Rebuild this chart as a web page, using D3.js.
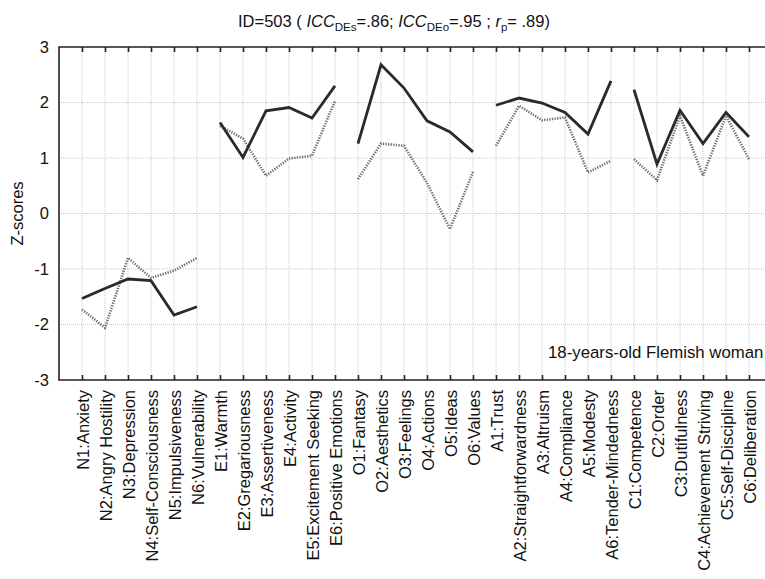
<!DOCTYPE html>
<html>
<head>
<meta charset="utf-8">
<script src="https://cdn.jsdelivr.net/npm/d3@7"></script>
<style>
  body { margin: 0; background: #fff; }
  svg { font-family: "Liberation Sans", Arial, sans-serif; display: block; }
</style>
</head>
<body>
<div id="chart"></div>
<script>
// facet categories (NEO-PI-R)
const domains = ["N", "E", "O", "A", "C"];
const facets = [
  "N1:Anxiety", "N2:Angry Hostility", "N3:Depression", "N4:Self-Consciousness", "N5:Impulsiveness", "N6:Vulnerability",
  "E1:Warmth", "E2:Gregariousness", "E3:Assertiveness", "E4:Activity", "E5:Excitement Seeking", "E6:Positive Emotions",
  "O1:Fantasy", "O2:Aesthetics", "O3:Feelings", "O4:Actions", "O5:Ideas", "O6:Values",
  "A1:Trust", "A2:Straightforwardness", "A3:Altruism", "A4:Compliance", "A5:Modesty", "A6:Tender-Mindedness",
  "C1:Competence", "C2:Order", "C3:Dutifulness", "C4:Achievement Striving", "C5:Self-Discipline", "C6:Deliberation"
];
// solid line (self)
const selfScores = [
  -1.53, -1.35, -1.18, -1.21, -1.83, -1.68,
  1.64, 1.01, 1.85, 1.91, 1.72, 2.30,
  1.26, 2.68, 2.26, 1.67, 1.47, 1.11,
  1.95, 2.08, 1.99, 1.82, 1.43, 2.39,
  2.23, 0.89, 1.86, 1.26, 1.82, 1.38
];
// dotted line (other)
const otherScores = [
  -1.73, -2.06, -0.80, -1.16, -1.03, -0.80,
  1.58, 1.35, 0.68, 0.99, 1.04, 2.03,
  0.62, 1.26, 1.22, 0.55, -0.28, 0.75,
  1.22, 1.94, 1.68, 1.73, 0.74, 0.95,
  0.98, 0.60, 1.76, 0.68, 1.76, 0.98
];
const yTicks = [-3, -2, -1, 0, 1, 2, 3];
const note = "18-years-old Flemish woman";

const width = 765, height = 579;
const plotLeft = 59, plotTop = 47, plotBottom = 380;

const svg = d3.select("#chart").append("svg")
  .attr("width", width)
  .attr("height", height);

const x = d3.scalePoint()
  .domain(facets)
  .range([plotLeft, plotLeft + 31 * 23])
  .padding(1);

const y = d3.scaleLinear()
  .domain([-3, 3])
  .range([plotBottom, plotTop]);

// grid
svg.append("g").selectAll("line")
  .data(facets)
  .enter().append("line")
  .attr("x1", d => x(d)).attr("x2", d => x(d))
  .attr("y1", plotTop).attr("y2", plotBottom)
  .attr("stroke", "#c8c8c8")
  .attr("stroke-width", 1)
  .attr("stroke-dasharray", "1,1");

svg.append("g").selectAll("line")
  .data(yTicks.slice(1, -1))
  .enter().append("line")
  .attr("x1", plotLeft).attr("x2", width)
  .attr("y1", d => y(d)).attr("y2", d => y(d))
  .attr("stroke", "#c8c8c8")
  .attr("stroke-width", 1)
  .attr("stroke-dasharray", "1,1");

// frame
svg.append("path")
  .attr("d", `M${width + 5},${plotTop}H${plotLeft}V${plotBottom}H${width + 5}`)
  .attr("fill", "none")
  .attr("stroke", "#222")
  .attr("stroke-width", 1.6);

// inward ticks on bottom and top
const bottomAxis = d3.axisBottom(x).tickSize(-5).tickFormat("");
svg.append("g")
  .attr("transform", `translate(0,${plotBottom})`)
  .call(bottomAxis)
  .call(g => g.select(".domain").remove())
  .call(g => g.selectAll(".tick line").attr("stroke", "#222").attr("stroke-width", 1.6));

const topAxis = d3.axisTop(x).tickSize(-5).tickFormat("");
svg.append("g")
  .attr("transform", `translate(0,${plotTop})`)
  .call(topAxis)
  .call(g => g.select(".domain").remove())
  .call(g => g.selectAll(".tick line").attr("stroke", "#222").attr("stroke-width", 1.6));

// y axis labels (plain hyphen for negatives)
const yAxis = d3.axisLeft(y).tickValues(yTicks).tickSize(0).tickPadding(10).tickFormat(d => String(d));
svg.append("g")
  .attr("transform", `translate(${plotLeft},0)`)
  .call(yAxis)
  .call(g => g.select(".domain").remove())
  .call(g => g.selectAll("text")
    .attr("font-size", "16.5px")
    .attr("fill", "#111")
    .attr("font-family", "Liberation Sans, Arial, sans-serif"));

// x labels, rotated
svg.append("g").selectAll("text")
  .data(facets)
  .enter().append("text")
  .attr("transform", d => `translate(${x(d) + 7},390) rotate(-90)`)
  .attr("text-anchor", "end")
  .attr("font-size", "16.5px")
  .attr("fill", "#111")
  .text(d => d);

// y title
svg.append("text")
  .attr("transform", `translate(23,${y(0)}) rotate(-90)`)
  .attr("text-anchor", "middle")
  .attr("font-size", "16.5px")
  .attr("fill", "#111")
  .text("Z-scores");

// lines, one segment per domain
const line = d3.line()
  .x(d => x(d.facet))
  .y(d => y(d.value));

const segs = (values) => domains.map((dm, i) =>
  facets.slice(i * 6, i * 6 + 6).map((f, j) => ({ facet: f, value: values[i * 6 + j] })));

svg.append("g").selectAll("path")
  .data(segs(otherScores))
  .enter().append("path")
  .attr("d", line)
  .attr("fill", "none")
  .attr("stroke", "#6f6f6f")
  .attr("stroke-width", 2.6)
  .attr("stroke-dasharray", "1.3,1.3");

svg.append("g").selectAll("path")
  .data(segs(selfScores))
  .enter().append("path")
  .attr("d", line)
  .attr("fill", "none")
  .attr("stroke", "#2a2a2a")
  .attr("stroke-width", 2.8)
  .attr("stroke-linejoin", "miter");

// annotation
svg.append("text")
  .attr("x", 548)
  .attr("y", 358)
  .attr("font-size", "16.8px")
  .attr("fill", "#111")
  .text(note);

// title
const title = svg.append("text")
  .attr("x", 394)
  .attr("y", 27)
  .attr("text-anchor", "middle")
  .attr("font-size", "16.5px")
  .attr("fill", "#111");
title.append("tspan").text("ID=503 ( ");
title.append("tspan").attr("font-style", "italic").text("ICC");
title.append("tspan").attr("font-size", "11.5px").attr("dy", 4).text("DEs");
title.append("tspan").attr("dy", -4).text("=.86; ");
title.append("tspan").attr("font-style", "italic").text("ICC");
title.append("tspan").attr("font-size", "11.5px").attr("dy", 4).text("DEo");
title.append("tspan").attr("dy", -4).text("=.95 ; ");
title.append("tspan").attr("font-style", "italic").text("r");
title.append("tspan").attr("font-size", "11.5px").attr("dy", 4).text("p");
title.append("tspan").attr("dy", -4).text("= .89)");
</script>
</body>
</html>
